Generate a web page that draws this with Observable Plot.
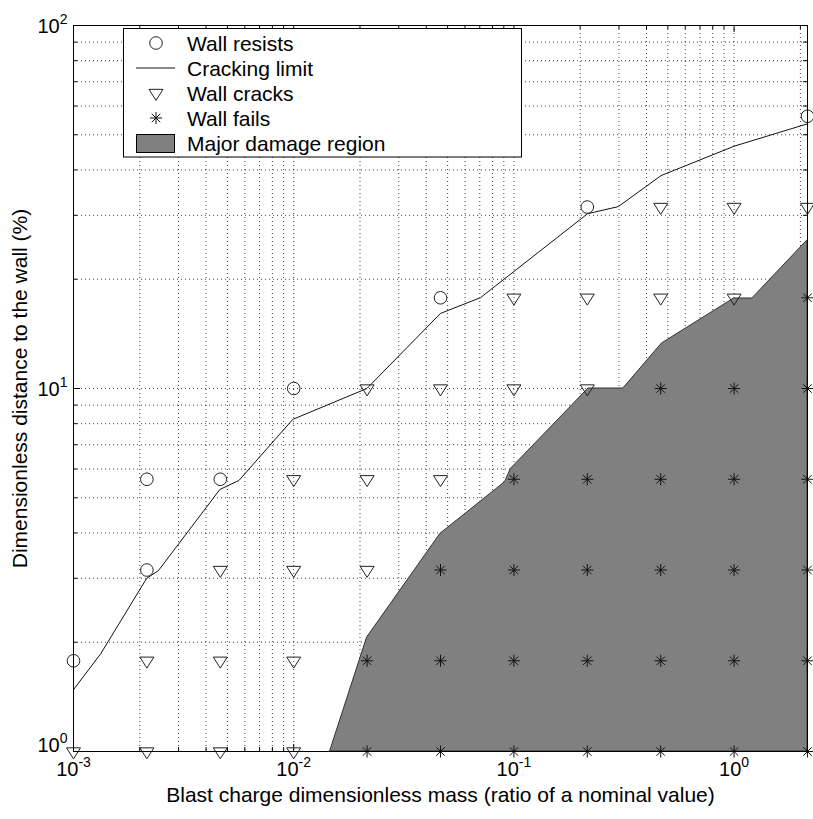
<!DOCTYPE html>
<html>
<head>
<meta charset="utf-8">
<script src="https://cdn.jsdelivr.net/npm/d3@7"></script>
<script src="https://cdn.jsdelivr.net/npm/@observablehq/plot@0.6"></script>
<style>
  body { margin: 0; background: #fff; }
  #wrap { position: relative; width: 813px; height: 819px; font-family: "Liberation Sans", Arial, sans-serif; }
  #wrap > svg { position: absolute; left: 0; top: 0; }
</style>
</head>
<body>
<div id="wrap"></div>
<script>
// ---------- tick values & labels ----------
const xTickValues = [0.001, 0.01, 0.1, 1];
const xTickLabels = ["10^-3", "10^-2", "10^-1", "10^0"];
const yTickValues = [1, 10, 100];
const yTickLabels = ["10^0", "10^1", "10^2"];
const xMinorTicks = [0.002, 0.003, 0.004, 0.005, 0.006, 0.007, 0.008, 0.009,
                     0.02, 0.03, 0.04, 0.05, 0.06, 0.07, 0.08, 0.09,
                     0.2, 0.3, 0.4, 0.5, 0.6, 0.7, 0.8, 0.9, 2];
const yMinorTicks = [2, 3, 4, 5, 6, 7, 8, 9, 20, 30, 40, 50, 60, 70, 80, 90];
const xGridValues = [0.002, 0.003, 0.004, 0.005, 0.006, 0.007, 0.008, 0.009, 0.01,
                     0.02, 0.03, 0.04, 0.05, 0.06, 0.07, 0.08, 0.09, 0.1,
                     0.2, 0.3, 0.4, 0.5, 0.6, 0.7, 0.8, 0.9, 1, 2];
const yGridValues = [2, 3, 4, 5, 6, 7, 8, 9, 10, 20, 30, 40, 50, 60, 70, 80, 90];

const xTitle = "Blast charge dimensionless mass (ratio of a nominal value)";
const yTitle = "Dimensionless distance to the wall (%)";
const legendLabels = ["Wall resists", "Cracking limit", "Wall cracks", "Wall fails", "Major damage region"];

// ---------- series ----------
const resistsX = [0.001, 0.002154, 0.002154, 0.004642, 0.01, 0.04642, 0.2154, 2.154];
const resistsY = [1.778, 3.162, 5.623, 5.623, 10, 17.78, 31.62, 56.23];

const cracksX = [0.001,
                 0.002154, 0.002154,
                 0.004642, 0.004642, 0.004642,
                 0.01, 0.01, 0.01, 0.01,
                 0.02154, 0.02154, 0.02154,
                 0.04642, 0.04642,
                 0.1, 0.1,
                 0.2154, 0.2154,
                 0.4642, 0.4642,
                 1, 1,
                 2.154];
const cracksY = [1,
                 1, 1.778,
                 1, 1.778, 3.162,
                 1, 1.778, 3.162, 5.623,
                 3.162, 5.623, 10,
                 5.623, 10,
                 10, 17.78,
                 10, 17.78,
                 17.78, 31.62,
                 17.78, 31.62,
                 31.62];

const failsX = [0.02154, 0.02154,
                0.04642, 0.04642, 0.04642,
                0.1, 0.1, 0.1, 0.1,
                0.2154, 0.2154, 0.2154, 0.2154,
                0.4642, 0.4642, 0.4642, 0.4642, 0.4642,
                1, 1, 1, 1, 1,
                2.154, 2.154, 2.154, 2.154, 2.154, 2.154];
const failsY = [1, 1.778,
                1, 1.778, 3.162,
                1, 1.778, 3.162, 5.623,
                1, 1.778, 3.162, 5.623,
                1, 1.778, 3.162, 5.623, 10,
                1, 1.778, 3.162, 5.623, 10,
                1, 1.778, 3.162, 5.623, 10, 17.78];

const limitX = [0.001, 0.00133, 0.00215, 0.00243, 0.00462, 0.00564, 0.0099, 0.0215,
                0.0464, 0.0706, 0.216, 0.298, 0.466, 1.0, 2.154];
const limitY = [1.48, 1.86, 3.0, 3.15, 5.27, 5.58, 8.22, 10.0,
                16.1, 17.8, 30.3, 31.7, 38.6, 46.5, 53.6];

const damageX = [0.01463, 0.02154, 0.04642, 0.0912, 0.0968, 0.218, 0.314, 0.47, 1.0, 1.21, 2.1544];
const damageY = [1, 2.06, 3.98, 5.52, 6.0, 10, 10, 13.3, 17.7, 17.7, 25.6];

const xDomain = [0.001, 2.1544];
const yDomain = [1, 100];

// ---------- table building ----------
const zipXY = (xs, ys) => xs.map((x, i) => ({x, y: ys[i]}));
const resists = zipXY(resistsX, resistsY);
const cracks = zipXY(cracksX, cracksY);
const fails = zipXY(failsX, failsY);
const limit = zipXY(limitX, limitY);
const damage = zipXY(damageX, damageY);

// ---------- custom symbols ----------
const triDown = {
  draw(ctx, size) {
    const r = Math.sqrt(size / Math.PI);
    const hw = r * 1.4, h = r * 2.2;
    ctx.moveTo(-hw, -h / 3);
    ctx.lineTo(hw, -h / 3);
    ctx.lineTo(0, 2 * h / 3);
    ctx.closePath();
  }
};
const star = {
  draw(ctx, size) {
    const r = Math.sqrt(size / Math.PI);
    const d = r * 0.7071;
    ctx.moveTo(0, -r); ctx.lineTo(0, r);
    ctx.moveTo(-r, 0); ctx.lineTo(r, 0);
    ctx.moveTo(-d, -d); ctx.lineTo(d, d);
    ctx.moveTo(-d, d); ctx.lineTo(d, -d);
  }
};

const gridStyle = {stroke: "#000", strokeOpacity: 0.75, strokeWidth: 1, strokeDasharray: "1,3"};
const lo = () => yDomain[0], hi = () => yDomain[1];
const left = () => xDomain[0], right = () => xDomain[1];

const plot = Plot.plot({
  width: 813,
  height: 819,
  marginLeft: 73,
  marginRight: 6,
  marginTop: 25,
  marginBottom: 68,
  x: {type: "log", domain: xDomain, axis: null},
  y: {type: "log", domain: yDomain, axis: null},
  style: {background: "#fff", fontFamily: "'Liberation Sans', Arial, sans-serif", overflow: "visible"},
  marks: [
    // grid
    Plot.ruleX(xGridValues, {x: d => d, ...gridStyle}),
    Plot.ruleY(yGridValues, {y: d => d, ...gridStyle}),
    // inward ticks (minor)
    Plot.ruleX(xMinorTicks, {x: d => d, y1: lo, y2: lo, insetTop: -4, stroke: "#000"}),
    Plot.ruleX(xMinorTicks, {x: d => d, y1: hi, y2: hi, insetBottom: -4, stroke: "#000"}),
    Plot.ruleY(yMinorTicks, {y: d => d, x1: left, x2: left, insetRight: -4, stroke: "#000"}),
    Plot.ruleY(yMinorTicks, {y: d => d, x1: right, x2: right, insetLeft: -4, stroke: "#000"}),
    // inward ticks (major)
    Plot.ruleX(xTickValues, {x: d => d, y1: lo, y2: lo, insetTop: -7, stroke: "#000"}),
    Plot.ruleX(xTickValues, {x: d => d, y1: hi, y2: hi, insetBottom: -7, stroke: "#000"}),
    Plot.ruleY(yTickValues, {y: d => d, x1: left, x2: left, insetRight: -7, stroke: "#000"}),
    Plot.ruleY(yTickValues, {y: d => d, x1: right, x2: right, insetLeft: -7, stroke: "#000"}),
    // major damage region
    Plot.areaY(damage, {x: "x", y1: lo, y2: "y", fill: "#808080", stroke: "#333", strokeWidth: 1, curve: "linear"}),
    // cracking limit
    Plot.line(limit, {x: "x", y: "y", stroke: "#111", strokeWidth: 1, curve: "linear"}),
    // markers
    Plot.dot(resists, {x: "x", y: "y", r: 6.3, symbol: "circle", fill: "none", stroke: "#222", strokeWidth: 1}),
    Plot.dot(cracks, {x: "x", y: "y", r: 5, symbol: triDown, fill: "none", stroke: "#222", strokeWidth: 1}),
    Plot.dot(fails, {x: "x", y: "y", r: 6, symbol: star, fill: "none", stroke: "#111", strokeWidth: 1}),
    // frame
    Plot.frame({stroke: "#000", strokeWidth: 1}),
    // tick labels
    Plot.text(xTickValues, {x: d => d, y: lo, text: (d, i) => xTickLabels[i], dy: 24, fontSize: 20, fill: "#000"}),
    Plot.text(yTickValues, {x: left, y: d => d, text: (d, i) => yTickLabels[i], dx: -6, textAnchor: "end", fontSize: 20, fill: "#000"}),
    // axis titles
    Plot.text([xTitle], {text: d => d, frameAnchor: "bottom", dy: 50, fontSize: 21, fill: "#000"}),
    Plot.text([yTitle], {text: d => d, frameAnchor: "left", textAnchor: "middle", dx: -53, rotate: -90, fontSize: 21, fill: "#000"})
  ]
});

// superscript tick labels
const NS = "http://www.w3.org/2000/svg";
plot.querySelectorAll("text").forEach(t => {
  const m = /^10\^(-?\d+)$/.exec(t.textContent);
  if (!m) return;
  const g = t.closest("g");
  const isY = g && g.getAttribute("text-anchor") === "end";
  const exp = m[1];
  while (t.firstChild) t.removeChild(t.firstChild);
  t.removeAttribute("dy");
  let baseY = 0;
  if (isY) baseY = (exp === "0") ? 0 : 7;
  t.setAttribute("y", baseY);
  const a = document.createElementNS(NS, "tspan");
  a.textContent = "10";
  const b = document.createElementNS(NS, "tspan");
  b.textContent = exp;
  b.setAttribute("dy", "-9");
  b.setAttribute("font-size", "14");
  t.appendChild(a);
  t.appendChild(b);
});

const wrap = document.getElementById("wrap");
wrap.appendChild(plot);

// ---------- legend overlay ----------
const lg = d3.select(wrap).append("svg")
  .attr("width", 813).attr("height", 819)
  .style("pointer-events", "none")
  .style("font-family", "'Liberation Sans', Arial, sans-serif");
lg.append("rect").attr("x", 123.5).attr("y", 28.5).attr("width", 398).attr("height", 128.5)
  .attr("fill", "#fff").attr("stroke", "#000").attr("stroke-width", 1);
const rowY = [43, 68, 93, 118, 143];
const mx = 156;
lg.append("circle").attr("cx", mx).attr("cy", rowY[0]).attr("r", 6.3)
  .attr("fill", "none").attr("stroke", "#222");
lg.append("line").attr("x1", 136).attr("x2", 175).attr("y1", rowY[1]).attr("y2", rowY[1])
  .attr("stroke", "#111");
lg.append("path").attr("transform", `translate(${mx},${rowY[2]})`)
  .attr("d", d3.symbol(triDown, 25 * Math.PI)()).attr("fill", "none").attr("stroke", "#222");
lg.append("path").attr("transform", `translate(${mx},${rowY[3]})`)
  .attr("d", d3.symbol(star, 36 * Math.PI)()).attr("fill", "none").attr("stroke", "#111");
lg.append("rect").attr("x", 136.5).attr("y", 134.5).attr("width", 38).attr("height", 18)
  .attr("fill", "#808080").attr("stroke", "#000");
lg.selectAll("text.lab").data(legendLabels).join("text")
  .attr("class", "lab")
  .attr("x", 187).attr("y", (d, i) => rowY[i] + 7.5)
  .attr("font-size", 21).attr("fill", "#000")
  .text(d => d);
</script>
</body>
</html>
